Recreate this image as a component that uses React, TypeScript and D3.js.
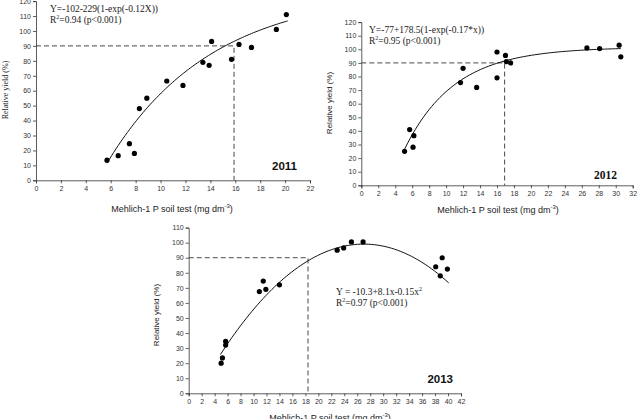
import { useEffect, useRef } from "react";
import * as d3 from "d3";

// 2011 observations: soil P (mg dm-3) vs relative yield (%)
const p2011X = [5.7, 6.6, 7.5, 7.9, 8.3, 8.9, 10.5, 11.8, 13.4, 13.9, 14.1, 15.7, 16.3, 17.3, 19.3, 20.1];
const p2011Y = [13.5, 16.5, 24.5, 18, 48, 55, 66.5, 63.5, 79, 77, 93, 81, 91, 89, 101, 111];

const p2012X = [5.1, 5.7, 6.1, 6.2, 11.7, 12, 13.6, 16, 16, 17, 17.1, 17.6, 26.6, 28.1, 30.4, 30.6];
const p2012Y = [25, 41, 28, 36.5, 75.5, 86, 72, 98, 79, 95.5, 91, 90, 101, 100.5, 103, 94.5];

const p2013X = [5, 5.2, 5.7, 5.7, 10.9, 11.5, 11.9, 14, 22.9, 23.9, 25.1, 26.9, 38.1, 38.8, 39.1, 39.9];
const p2013Y = [20, 23.5, 34.5, 32, 67.5, 74.5, 69, 72, 95, 96.5, 100.5, 100.5, 84, 78, 90, 82.5];

// critical soil P levels at 90% relative yield
const critical = [15.9, 16.9, 18.4];
const targetYield = 90;

const fit2011 = (x: number) => -102 + 229 * (1 - Math.exp(-0.12 * x));
const fit2012 = (x: number) => -77 + 178.5 * (1 - Math.exp(-0.17 * x));
const fit2013 = (x: number) => -10.3 + 8.1 * x - 0.15 * x * x;

type PanelCfg = {
  xs: number[];
  ys: number[];
  fit: (x: number) => number;
  fitRange: [number, number];
  crit: number;
  xMax: number;
  yMax: number;
  xRange: [number, number];
  yRange: [number, number];
  eq: string;
  r2: string;
  eqPos: [number, number];
  year: string;
  yearPos: [number, number];
  yearFont: string;
  xTitlePos: [number, number];
  yTitlePos: [number, number];
  yTitleFont: string;
};

const panels: PanelCfg[] = [
  {
    xs: p2011X, ys: p2011Y, fit: fit2011, fitRange: [5.7, 20.2], crit: critical[0],
    xMax: 22, yMax: 120, xRange: [36, 310], yRange: [180.3, 1.1],
    eq: "Y=-102-229(1-exp(-0.12X))", r2: "=0.94 (p<0.001)", eqPos: [50, 12],
    year: "2011", yearPos: [297, 170], yearFont: "Liberation Sans",
    xTitlePos: [172, 212], yTitlePos: [8, 90], yTitleFont: "Liberation Serif",
  },
  {
    xs: p2012X, ys: p2012Y, fit: fit2012, fitRange: [5.1, 30.6], crit: critical[1],
    xMax: 32, yMax: 120, xRange: [361.3, 632.7], yRange: [185.3, 22.1],
    eq: "Y=-77+178.5(1-exp(-0.17*x))", r2: "=0.95 (p<0.001)", eqPos: [369, 33],
    year: "2012", yearPos: [617, 179], yearFont: "Liberation Serif",
    xTitlePos: [498, 213], yTitlePos: [332, 103], yTitleFont: "Liberation Sans",
  },
  {
    xs: p2013X, ys: p2013Y, fit: fit2013, fitRange: [4.9, 40.1], crit: critical[2],
    xMax: 42, yMax: 110, xRange: [188.7, 461], yRange: [393.3, 227.6],
    eq: "Y = -10.3+8.1x-0.15x", r2: "=0.97 (p<0.001)", eqPos: [336, 295],
    year: "2013", yearPos: [453, 383], yearFont: "Liberation Sans",
    xTitlePos: [330, 421], yTitlePos: [159, 315], yTitleFont: "Liberation Sans",
  },
];

function App() {
  const svgRef = useRef<SVGSVGElement | null>(null);

  useEffect(() => {
    if (!svgRef.current) return;
    const svg = d3.select(svgRef.current);
    svg.selectAll("*").remove();

    panels.forEach((p, i) => {
      const g = svg.append("g");
      const x = d3.scaleLinear().domain([0, p.xMax]).range(p.xRange);
      const y = d3.scaleLinear().domain([0, p.yMax]).range(p.yRange);

      const xAxis = d3.axisBottom(x).tickValues(d3.range(0, p.xMax + 1, 2)).tickSize(3).tickPadding(3);
      const yAxis = d3.axisLeft(y).tickValues(d3.range(0, p.yMax + 1, 10)).tickSize(3).tickPadding(2);

      const ax = g.append("g").attr("transform", `translate(0,${p.yRange[0]})`).call(xAxis);
      const ay = g.append("g").attr("transform", `translate(${p.xRange[0]},0)`).call(yAxis);
      [ax, ay].forEach((a) => {
        a.select(".domain").attr("stroke", "#333").attr("stroke-width", 0.8);
        a.selectAll(".tick line").attr("stroke", "#333").attr("stroke-width", 0.8);
        a.selectAll(".tick text")
          .attr("font-family", "Liberation Sans, Arial, sans-serif")
          .attr("font-size", 7)
          .attr("fill", "#333");
      });

      // dashed guide at 90% relative yield
      g.append("path")
        .attr("d", `M${x(0)},${y(targetYield)}H${x(p.crit)}V${y(0)}`)
        .attr("fill", "none")
        .attr("stroke", "#333")
        .attr("stroke-width", 0.9)
        .attr("stroke-dasharray", "5,3");

      const fx = d3.range(p.fitRange[0], p.fitRange[1] + 0.001, (p.fitRange[1] - p.fitRange[0]) / 80);
      const line = d3.line<number>().x((d) => x(d)).y((d) => y(p.fit(d))).curve(d3.curveLinear);
      g.append("path")
        .attr("d", line(fx))
        .attr("fill", "none")
        .attr("stroke", "#111")
        .attr("stroke-width", 1);

      g.selectAll("circle")
        .data(p.xs.map((v, k) => [v, p.ys[k]]))
        .join("circle")
        .attr("cx", (d) => x(d[0]))
        .attr("cy", (d) => y(d[1]))
        .attr("r", 2.6)
        .attr("fill", "#000");

      // regression equation
      const eq = g.append("text")
        .attr("x", p.eqPos[0])
        .attr("y", p.eqPos[1])
        .attr("font-family", "Liberation Serif, Times New Roman, serif")
        .attr("font-size", 9.5)
        .attr("fill", "#222");
      eq.append("tspan").text(p.eq);
      if (i === 2) eq.append("tspan").attr("dy", -4).attr("font-size", 6).text("2");
      const r2 = g.append("text")
        .attr("x", p.eqPos[0])
        .attr("y", p.eqPos[1] + 11)
        .attr("font-family", "Liberation Serif, Times New Roman, serif")
        .attr("font-size", 9.5)
        .attr("fill", "#222");
      r2.append("tspan").text("R");
      r2.append("tspan").attr("dy", -4).attr("font-size", 6).text("2");
      r2.append("tspan").attr("dy", 4).text(p.r2);

      g.append("text")
        .attr("x", p.yearPos[0])
        .attr("y", p.yearPos[1])
        .attr("text-anchor", "end")
        .attr("font-family", p.yearFont)
        .attr("font-weight", "bold")
        .attr("font-size", 11.5)
        .attr("fill", "#111")
        .text(p.year);

      const xt = g.append("text")
        .attr("x", p.xTitlePos[0])
        .attr("y", p.xTitlePos[1])
        .attr("text-anchor", "middle")
        .attr("font-family", "Liberation Sans, Arial, sans-serif")
        .attr("font-size", 9)
        .attr("fill", "#222");
      xt.append("tspan").text("Mehlich-1 P soil test (mg dm");
      xt.append("tspan").attr("dy", -4).attr("font-size", 6).text("-3");
      xt.append("tspan").attr("dy", 4).text(")");

      g.append("text")
        .attr("transform", `translate(${p.yTitlePos[0]},${p.yTitlePos[1]}) rotate(-90)`)
        .attr("text-anchor", "middle")
        .attr("font-family", p.yTitleFont)
        .attr("font-size", 8)
        .attr("fill", "#222")
        .text("Relative yield (%)");
    });
  }, []);

  return (
    <div style={{ position: "absolute", left: 0, top: 0, background: "#fff" }}>
      <svg ref={svgRef} width={640} height={419} style={{ display: "block" }}></svg>
    </div>
  );
}

export default App;
